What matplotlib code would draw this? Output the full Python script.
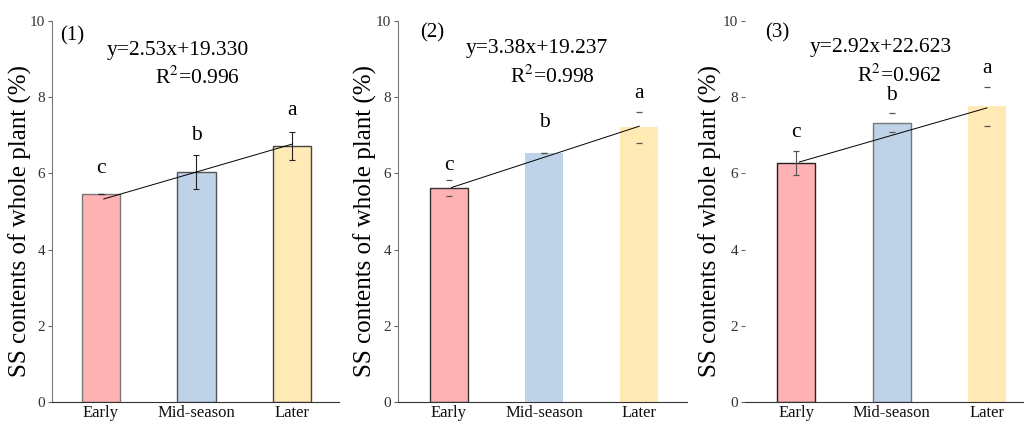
import numpy as np
import matplotlib
matplotlib.use("Agg")
import matplotlib.pyplot as plt

plt.rcParams["font.family"] = ["Liberation Serif", "DejaVu Serif"]
plt.rcParams["mathtext.fontset"] = "stix"

# --------------------------------------------------------------------------
# data
# --------------------------------------------------------------------------
categories = ["Early", "Mid-season", "Later"]
panel_tags = ["(1)", "(2)", "(3)"]

means_1 = [5.46, 6.03, 6.72]
means_2 = [5.61, 6.53, 7.21]
means_3 = [6.28, 7.33, 7.76]

errors_1 = [0.00, 0.45, 0.37]
errors_2 = [0.21, 0.00, 0.41]
errors_3 = [0.31, 0.25, 0.52]

letters_1 = ["c", "b", "a"]
letters_2 = ["c", "b", "a"]
letters_3 = ["c", "b", "a"]

# fitted line value at the first and last stage
trend_1 = [5.33, 6.77]
trend_2 = [5.63, 7.24]
trend_3 = [6.30, 7.72]

equations = ["y=2.53x+19.330", "y=3.38x+19.237", "y=2.92x+22.623"]
r_squared = ["0.996", "0.998", "0.962"]

bar_colors = ["#FFB2B4", "#BFD3E8", "#FFEAB6"]

# --------------------------------------------------------------------------
panels = [
    dict(means=means_1, err=errors_1, letters=letters_1, trend=trend_1,
         letter_y=[6.14, 7.00, 7.66], eq_xy=(0.81, 9.24), r2_xy=(1.01, 8.52),
         tag_xy=(-0.30, 9.62), rect=[0.0508, 0.045, 0.2803, 0.905],
         xlim=(-0.51, 2.49), left_spine=True, label_x=-0.07,
         edges=["#777777", "#555555", "#444444"], caps_only=False),
    dict(means=means_2, err=errors_2, letters=letters_2, trend=trend_2,
         letter_y=[6.22, 7.35, 8.10], eq_xy=(0.93, 9.28), r2_xy=(1.09, 8.53),
         tag_xy=(-0.17, 9.68), rect=[0.3887, 0.045, 0.2822, 0.905],
         xlim=(-0.53, 2.50), left_spine=True, label_x=-0.073,
         edges=["#333333", "none", "none"], caps_only=True),
    dict(means=means_3, err=errors_3, letters=letters_3, trend=trend_3,
         letter_y=[7.08, 8.05, 8.75], eq_xy=(0.89, 9.30), r2_xy=(1.08, 8.57),
         tag_xy=(-0.20, 9.68), rect=[0.7275, 0.045, 0.2828, 0.905],
         xlim=(-0.54, 2.50), left_spine=False, label_x=-0.079,
         edges=["#222222", "#777777", "none"], caps_only=True),
]

fig = plt.figure(figsize=(10.24, 4.21), dpi=100)
x = np.arange(len(categories))

for i, p in enumerate(panels):
    ax = fig.add_axes(p["rect"])
    ax.bar(x, p["means"], width=0.4, color=bar_colors,
           edgecolor=p["edges"], linewidth=1.0, zorder=2)

    if p["caps_only"]:
        ax.errorbar(x, p["means"], yerr=p["err"], fmt="none", ecolor="#555555",
                    elinewidth=0, capsize=2.5, capthick=0.9, zorder=3)
        # panel 3 early bar has a full bar
        if i == 2:
            ax.errorbar(x[:1], p["means"][:1], yerr=p["err"][:1], fmt="none",
                        ecolor="#555555", elinewidth=0.8, capsize=0, zorder=3)
    else:
        ax.errorbar(x, p["means"], yerr=p["err"], fmt="none", ecolor="#222222",
                    elinewidth=0.8, capsize=2.5, capthick=0.8, zorder=3)

    ax.plot([x[0] + 0.03, x[-1]], p["trend"], color="black", lw=0.7, zorder=4)

    for xi, lab, ly in zip(x, p["letters"], p["letter_y"]):
        ax.text(xi, ly, lab, ha="center", va="center", fontsize=15.5)

    ax.text(*p["tag_xy"], panel_tags[i], ha="center", va="center", fontsize=15)
    ax.text(*p["eq_xy"], equations[i], ha="center", va="center", fontsize=15.5)
    ax.text(*p["r2_xy"], "R$^2$=" + r_squared[i], ha="center", va="center",
            fontsize=15.5)

    ax.set_xlim(*p["xlim"])
    ax.set_ylim(0, 10)
    ax.set_yticks(range(0, 11, 2))
    ax.set_xticks(x)
    ax.set_xticklabels(categories, fontsize=12)
    ax.tick_params(axis="y", labelsize=11, labelcolor="#333333", direction="out",
                   length=3, width=0.8, color="#666666", pad=2)
    ax.tick_params(axis="x", direction="in", length=2.5, width=0.6,
                   color="#888888", pad=2, labelcolor="#111111")
    ax.set_ylabel("SS contents of whole plant (%)", fontsize=18)
    ax.yaxis.set_label_coords(p["label_x"], 0.475)

    for side in ("top", "right"):
        ax.spines[side].set_visible(False)
    ax.spines["bottom"].set_color("#333333")
    ax.spines["left"].set_color("#777777")
    ax.spines["left"].set_visible(p["left_spine"])

fig.savefig("out.png", dpi=100)
